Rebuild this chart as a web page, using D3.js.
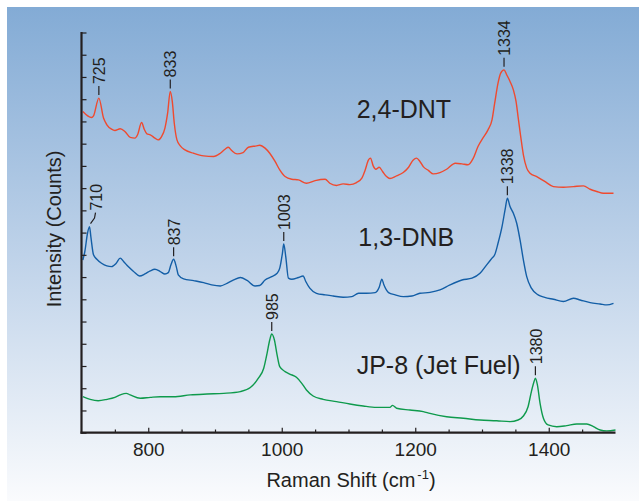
<!DOCTYPE html>
<html><head><meta charset="utf-8">
<script src="https://cdn.jsdelivr.net/npm/d3@7"></script>
<style>html,body{margin:0;padding:0;background:#fff;} svg{display:block;font-family:"Liberation Sans",Arial,Helvetica,sans-serif;}</style>
</head><body><svg id="chart" width="639" height="501"></svg>
<script>
// ---------- data ----------
const xTickValues = [750, 800, 850, 900, 950, 1000, 1050, 1100, 1150, 1200, 1250, 1300, 1350, 1400, 1450];
const xTickLabels = [800, 1000, 1200, 1400];
const yTickValues = d3.range(0, 19, 1);

const seriesNames = ["2,4-DNT", "1,3-DNB", "JP-8 (Jet Fuel)"];

const dntShift = [702,715,718,726,733,738,745,750,758,765,773,780,784,790,794,798,803,810,815,820,825,829,833,836,839,843,848,855,868,883,898,908,915,920,925,933,942,950,962,967,975,982,990,997,1005,1015,1025,1037,1050,1065,1072,1082,1092,1102,1112,1120,1125,1130,1133,1137,1141,1146,1151,1157,1162,1172,1182,1190,1197,1202,1207,1212,1220,1227,1237,1247,1260,1270,1279,1287,1294,1302,1309,1315,1319,1324,1328,1333,1337,1342,1347,1351,1354,1358,1362,1367,1372,1382,1394,1407,1422,1437,1452,1462,1472,1482,1497];
const dntIntensity = [14.45,14.18,14.25,15.05,14.15,13.85,13.65,13.59,13.67,13.55,13.28,13.25,13.40,13.95,13.65,13.44,13.40,13.25,13.17,13.32,13.70,14.37,15.35,14.90,13.92,13.17,12.90,12.72,12.57,12.45,12.42,12.57,12.75,12.84,12.69,12.54,12.60,12.84,12.90,12.93,12.80,12.57,12.20,11.82,11.52,11.40,11.37,11.22,11.34,11.40,11.22,11.12,11.19,11.16,11.25,11.45,11.82,12.27,12.35,12.00,11.85,11.94,11.75,11.52,11.43,11.55,11.70,11.94,12.27,12.35,12.20,11.97,11.79,11.64,11.70,11.85,12.12,12.09,12.05,12.35,12.87,13.28,13.62,14.07,14.82,15.72,16.17,16.32,16.10,15.80,15.42,14.90,14.22,13.32,12.50,11.90,11.67,11.52,11.30,11.07,11.04,11.07,11.10,10.95,10.85,10.77,10.77];

const dnbShift = [702,705,709,712,714,718,723,730,738,745,752,758,763,770,778,787,795,803,810,818,825,830,834,838,842,845,853,868,883,895,908,918,928,938,948,960,967,975,985,993,997,1001,1003,1006,1010,1015,1025,1032,1036,1042,1052,1065,1077,1092,1105,1115,1127,1140,1146,1150,1153,1160,1170,1182,1195,1207,1222,1237,1252,1270,1285,1297,1307,1315,1319,1324,1330,1335,1338,1342,1347,1352,1357,1362,1367,1374,1384,1394,1407,1422,1437,1447,1462,1477,1487,1497];
const dnbIntensity = [7.77,8.15,8.97,9.27,8.82,8.00,7.80,7.62,7.50,7.47,7.62,7.85,7.70,7.47,7.25,7.05,7.14,7.28,7.35,7.25,7.14,7.20,7.55,7.80,7.47,7.10,6.92,6.84,6.75,6.65,6.60,6.72,6.87,6.98,6.85,6.60,6.62,6.87,7.02,7.17,7.40,8.07,8.49,7.92,6.95,6.90,6.98,7.05,6.80,6.50,6.27,6.20,6.15,6.09,6.12,6.27,6.27,6.30,6.54,6.90,6.65,6.30,6.20,6.12,6.15,6.27,6.31,6.42,6.65,6.87,6.95,7.17,7.55,7.85,8.00,8.52,9.27,10.10,10.55,10.17,9.87,9.42,8.67,7.77,7.02,6.50,6.20,6.09,6.00,5.90,6.05,5.97,5.85,5.79,5.75,5.82];

const jp8Shift = [702,713,725,738,750,758,767,773,788,803,818,838,863,888,913,938,953,965,973,978,982,985,989,993,997,1005,1012,1022,1030,1037,1047,1062,1082,1102,1122,1142,1162,1166,1172,1192,1212,1222,1247,1272,1297,1322,1342,1354,1362,1369,1374,1378,1380,1383,1387,1392,1399,1412,1427,1442,1457,1467,1477,1487,1500];
const jp8Intensity = [1.62,1.50,1.44,1.50,1.59,1.70,1.77,1.70,1.55,1.59,1.62,1.62,1.70,1.74,1.77,1.85,2.03,2.45,2.90,3.57,4.17,4.44,4.17,3.50,2.97,2.75,2.64,2.49,2.22,1.92,1.65,1.50,1.40,1.29,1.20,1.14,1.14,1.23,1.10,1.02,0.95,0.87,0.72,0.65,0.57,0.54,0.50,0.57,0.75,1.17,1.85,2.30,2.45,2.15,1.32,0.65,0.35,0.27,0.32,0.39,0.39,0.27,0.12,0.08,0.12];

const dntPeaks = [725, 833, 1334];
const dnbPeaks = [710, 837, 1003, 1338];
const jp8Peaks = [985, 1380];

// ---------- drawing ----------
const svg = d3.select("#chart");
const ink = "#231f20";

const defs = svg.append("defs");
const grad = defs.append("linearGradient").attr("id", "bg").attr("x1", 0).attr("y1", 0).attr("x2", 0).attr("y2", 1);
grad.append("stop").attr("offset", "0%").attr("stop-color", "#83abd5");
grad.append("stop").attr("offset", "50%").attr("stop-color", "#bed2e9");
grad.append("stop").attr("offset", "100%").attr("stop-color", "#fafbfd");
svg.append("rect").attr("x", 7).attr("y", 7).attr("width", 632).attr("height", 494).attr("fill", "url(#bg)");

const x = d3.scaleLinear().domain([700, 1500]).range([81.5, 615.5]);
const y = d3.scaleLinear().domain([0, 18]).range([432.7, 32.5]);

// curves
const line = d3.line().x(d => x(d[0])).y(d => y(d[1])).curve(d3.curveMonotoneX);
const series = [
  {name: seriesNames[0], xs: dntShift, ys: dntIntensity, peaks: dntPeaks, color: "#ef4a2f"},
  {name: seriesNames[1], xs: dnbShift, ys: dnbIntensity, peaks: dnbPeaks, color: "#135ea6"},
  {name: seriesNames[2], xs: jp8Shift, ys: jp8Intensity, peaks: jp8Peaks, color: "#0e9a4c"}
];
series.forEach(s => {
  const pts = s.xs.map((v, i) => [v, s.ys[i]]);
  s.pts = pts;
  svg.append("path").datum(pts).attr("d", line)
    .attr("fill", "none").attr("stroke", s.color).attr("stroke-width", 1.4).attr("stroke-linejoin", "round");
});

// axes
const gx = svg.append("g").attr("transform", `translate(0,${y(0)})`)
  .call(d3.axisBottom(x).tickValues(xTickValues).tickSize(0).tickFormat(""));
gx.select(".domain").remove();
gx.selectAll(".tick line").remove();
gx.selectAll(".tick").append("line")
  .attr("y1", 0).attr("y2", d => xTickLabels.includes(d) ? -5 : -3.2)
  .attr("stroke", ink).attr("stroke-width", 1.2);
const gxl = svg.append("g").attr("transform", `translate(0,${y(0)})`)
  .call(d3.axisBottom(x).tickValues(xTickLabels).tickSize(0).tickPadding(0).tickFormat(d3.format("d")));
gxl.select(".domain").remove();
gxl.selectAll(".tick text").attr("y", 23).attr("dy", 0)
  .attr("font-size", 19).attr("fill", ink).attr("font-family", "Liberation Sans, Arial, sans-serif");

const gy = svg.append("g").attr("transform", `translate(${x(700)},0)`)
  .call(d3.axisRight(y).tickValues(yTickValues).tickSize(5).tickFormat(""));
gy.select(".domain").remove();
gy.selectAll(".tick line").attr("stroke", ink).attr("stroke-width", 1.2);

svg.append("line").attr("x1", x(700)).attr("x2", x(700)).attr("y1", y(18) - 0.6).attr("y2", y(0) + 1)
  .attr("stroke", ink).attr("stroke-width", 2.2);
svg.append("line").attr("x1", x(700) - 1).attr("x2", x(1500)).attr("y1", y(0)).attr("y2", y(0))
  .attr("stroke", ink).attr("stroke-width", 2.2);

// axis titles
const xt = svg.append("text").attr("x", 351).attr("y", 487).attr("text-anchor", "middle")
  .attr("font-size", 20).attr("fill", ink);
xt.append("tspan").text("Raman Shift (cm");
xt.append("tspan").attr("dx", 2).attr("dy", -8).attr("font-size", 13).text("-1");
xt.append("tspan").attr("dy", 8).text(")");

svg.append("text").attr("transform", "translate(61,229) rotate(-90)").attr("text-anchor", "middle")
  .attr("font-size", 20).attr("fill", ink).text("Intensity (Counts)");

// series labels
const labelPos = [[356.7, 118], [358.3, 245.5], [356.7, 374]];
series.forEach((s, i) => {
  svg.append("text").attr("x", labelPos[i][0]).attr("y", labelPos[i][1])
    .attr("font-size", 25).attr("fill", ink).text(s.name);
});

// peak labels
series.forEach(s => {
  s.peaks.forEach(p => {
    const near = s.pts.filter(d => Math.abs(d[0] - p) <= 6);
    const top = near.reduce((a, b) => (b[1] > a[1] ? b : a));
    const px = x(top[0]), py = y(top[1]);
    if (p === 710) {
      svg.append("path")
        .attr("d", `M${px + 1},${py - 3} L${px + 5},${py - 8.5} L${px + 6},${py - 14}`)
        .attr("fill", "none").attr("stroke", ink).attr("stroke-width", 1.2);
      svg.append("text").attr("transform", `translate(${px + 7},${py - 16}) rotate(-90)`)
        .attr("dy", "0.35em").attr("font-size", 16).attr("fill", ink).text(p);
    } else {
      svg.append("line").attr("x1", px).attr("x2", px).attr("y1", py - 3).attr("y2", py - 12)
        .attr("stroke", ink).attr("stroke-width", 1.2);
      svg.append("text").attr("transform", `translate(${px + 0.5},${py - 14}) rotate(-90)`)
        .attr("dy", "0.35em").attr("font-size", 16).attr("fill", ink).text(p);
    }
  });
});
</script>
</body></html>
